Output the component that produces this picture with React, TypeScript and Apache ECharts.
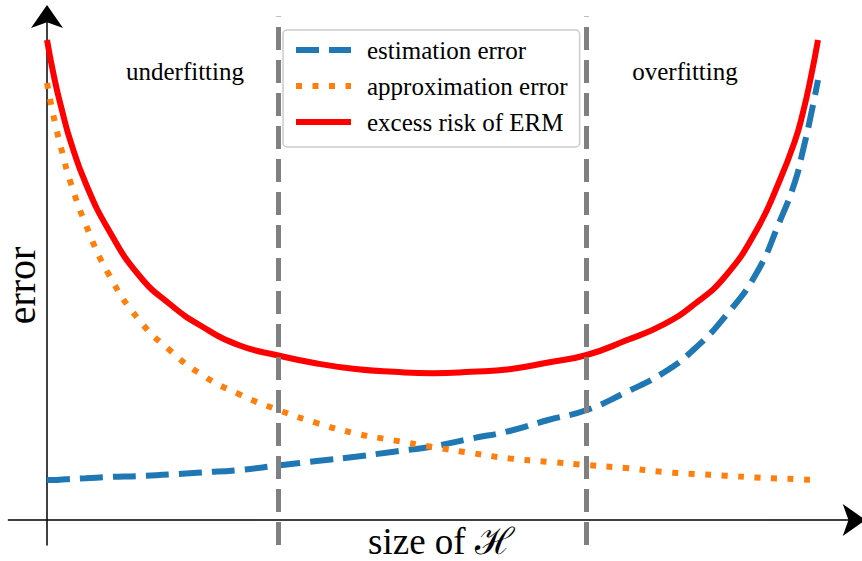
import React, { useEffect, useRef } from "react";
import * as echarts from "echarts";

// model size (normalised), sampled along the x axis
const X_VALUES = [0, 0.01, 0.02, 0.03, 0.05, 0.08, 0.12, 0.16, 0.2, 0.25, 0.3, 0.35, 0.4, 0.45, 0.5, 0.55, 0.6, 0.65, 0.7, 0.75, 0.8, 0.84, 0.88, 0.92, 0.95, 0.97, 0.98, 0.99, 1.0];
const ESTIMATION_ERROR = [0.4, 0.4, 0.405, 0.41, 0.417, 0.43, 0.44, 0.455, 0.475, 0.5, 0.545, 0.59, 0.633, 0.683, 0.735, 0.814, 0.89, 1.0, 1.1, 1.274, 1.475, 1.713, 2.04, 2.465, 2.98, 3.38, 3.68, 4.02, 4.4];
const APPROXIMATION_ERROR = [4.37, 3.985, 3.67, 3.39, 2.96, 2.457, 1.995, 1.693, 1.456, 1.255, 1.1, 0.97, 0.866, 0.796, 0.73, 0.67, 0.616, 0.582, 0.55, 0.52, 0.48, 0.46, 0.443, 0.425, 0.415, 0.41, 0.405, 0.402, 0.4];
const EXCESS_RISK = [4.8, 4.4, 4.08, 3.8, 3.37, 2.9, 2.44, 2.155, 1.94, 1.745, 1.645, 1.565, 1.51, 1.482, 1.468, 1.482, 1.508, 1.575, 1.65, 1.792, 1.956, 2.16, 2.44, 2.895, 3.39, 3.79, 4.06, 4.4, 4.8];
const REGION_BOUNDS = [0.3, 0.7];
const SERIES_NAMES = ["estimation error", "approximation error", "excess risk of ERM"];
const SERIES_COLORS = ["#1f77b4", "#ff7f0e", "#ff0000"];
const REGION_LABELS = ["underfitting", "overfitting"];
const X_AXIS_TITLE = "size of \u210B";
const Y_AXIS_TITLE = "error";

const X_RANGE = [-0.05, 1.047];
const Y_RANGE = [-0.25, 5.035];

const SERIF = "'Liberation Serif', 'DejaVu Serif', 'Times New Roman', serif";

const DASHES: (number[] | "solid")[] = [[23, 10], [6, 10.5], "solid"];

const pairs = (ys: number[]) => X_VALUES.map((x, i) => [x, ys[i]]);

export default function App() {
  const ref = useRef<HTMLDivElement>(null);

  useEffect(() => {
    if (!ref.current) return;
    const chart = echarts.init(ref.current, undefined, { renderer: "svg" });

    const axisLine = {
      show: true,
      onZero: true,
      symbol: ["none", "arrow"],
      symbolSize: [24, 23],
      symbolOffset: [0, 11.5],
      lineStyle: { color: "#000", width: 1.5 },
    };

    const lineSeries = (i: number, ys: number[], extra: any = {}) => ({
      name: SERIES_NAMES[i],
      type: "line",
      data: pairs(ys),
      smooth: 0.5,
      symbol: "none",
      showSymbol: false,
      lineStyle: { color: SERIES_COLORS[i], width: 6, type: DASHES[i], cap: "butt" },
      itemStyle: { color: SERIES_COLORS[i] },
      ...extra,
    });

    const option = {
      animation: false,
      backgroundColor: "#ffffff",
      grid: { left: 8.45, right: 7.75, top: 16.5, bottom: 16, containLabel: false },
      xAxis: {
        type: "value",
        min: X_RANGE[0],
        max: X_RANGE[1],
        axisLine,
        axisTick: { show: false },
        axisLabel: { show: false },
        splitLine: { show: false },
      },
      yAxis: {
        type: "value",
        min: Y_RANGE[0],
        max: Y_RANGE[1],
        axisLine,
        axisTick: { show: false },
        axisLabel: { show: false },
        splitLine: { show: false },
      },
      legend: {
        orient: "vertical",
        left: 283,
        top: 30,
        padding: [7.5, 12, 12.5, 10],
        itemWidth: 55,
        itemHeight: 22,
        itemGap: 11,
        backgroundColor: "rgba(255,255,255,0.8)",
        borderColor: "#cccccc",
        borderWidth: 1.5,
        borderRadius: 4,
        data: SERIES_NAMES.map((name, i) => ({
          name,
          itemStyle: { opacity: 0, color: SERIES_COLORS[i] },
          lineStyle: { color: SERIES_COLORS[i], width: 6, type: DASHES[i], cap: "butt", opacity: 1 },
        })),
        textStyle: {
          fontFamily: SERIF,
          fontSize: 25,
          lineHeight: 25,
          color: "#000",
          padding: [0, 0, 0, 11],
        },
      },
      series: [
        lineSeries(0, ESTIMATION_ERROR),
        lineSeries(1, APPROXIMATION_ERROR),
        lineSeries(2, EXCESS_RISK, {
          markLine: {
            silent: true,
            symbol: ["none", "none"],
            label: { show: false },
            lineStyle: { color: "#808080", width: 5, type: [23, 10], cap: "butt" },
            emphasis: { disabled: true },
            data: REGION_BOUNDS.map((v) => ({ xAxis: v })),
          },
        }),
      ],
      graphic: [
        {
          type: "text",
          x: 185,
          y: 71,
          style: { text: REGION_LABELS[0], font: `25px ${SERIF}`, fill: "#000", align: "center", verticalAlign: "middle" },
        },
        {
          type: "text",
          x: 685,
          y: 71,
          style: { text: REGION_LABELS[1], font: `25px ${SERIF}`, fill: "#000", align: "center", verticalAlign: "middle" },
        },
        {
          type: "text",
          x: 21,
          y: 285.5,
          rotation: Math.PI / 2,
          style: { text: Y_AXIS_TITLE, font: `40px ${SERIF}`, fill: "#000", align: "center", verticalAlign: "middle" },
        },
        {
          type: "text",
          x: 441,
          y: 541,
          style: { text: X_AXIS_TITLE, font: `37px ${SERIF}`, fill: "#000", align: "center", verticalAlign: "middle" },
        },
      ],
    };

    chart.setOption(option as any);
    return () => chart.dispose();
  }, []);

  return (
    <div
      ref={ref}
      style={{ position: "absolute", left: 0, top: 0, width: 862, height: 561, background: "#fff" }}
    />
  );
}
